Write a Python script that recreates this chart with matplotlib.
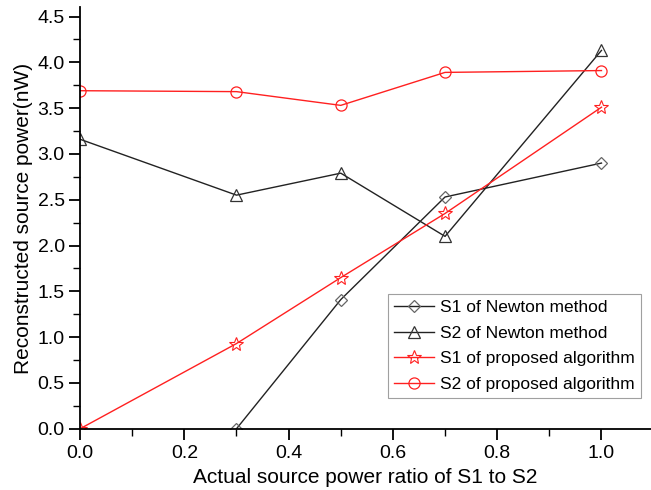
import matplotlib.pyplot as plt

plt.rcParams['font.family'] = ['Liberation Sans', 'DejaVu Sans']

# data
x_newton_s1 = [0.3, 0.5, 0.7, 1.0]
s1_newton = [0.0, 1.41, 2.53, 2.90]

x_all = [0.0, 0.3, 0.5, 0.7, 1.0]
s2_newton = [3.16, 2.55, 2.79, 2.10, 4.13]
s1_proposed = [0.0, 0.93, 1.65, 2.35, 3.51]
s2_proposed = [3.69, 3.68, 3.53, 3.89, 3.91]

fig = plt.figure(figsize=(6.51, 4.90), dpi=100)
ax = fig.add_axes([0.123, 0.125, 0.877, 0.86])

ax.plot(x_newton_s1, s1_newton, color='#222222', lw=1.0, marker='D', ms=6,
        mfc='none', mec='#666666', mew=0.9, label='S1 of Newton method')
ax.plot(x_all, s2_newton, color='#222222', lw=1.0, marker='^', ms=9,
        mfc='none', mec='#333333', mew=0.9, label='S2 of Newton method')
ax.plot(x_all, s1_proposed, color='#ff2020', lw=1.0, marker='*', ms=10,
        mfc='none', mec='#ff2020', mew=0.8, label='S1 of proposed algorithm')
ax.plot(x_all, s2_proposed, color='#ff2020', lw=1.0, marker='o', ms=8,
        mfc='none', mec='#ff2020', mew=0.9, label='S2 of proposed algorithm')

ax.set_xlim(0, 1.095)
ax.set_ylim(0, 4.6)
ax.set_xticks([0.0, 0.2, 0.4, 0.6, 0.8, 1.0])
ax.set_xticks([0.1, 0.3, 0.5, 0.7, 0.9], minor=True)
ax.set_yticks([0.0, 0.5, 1.0, 1.5, 2.0, 2.5, 3.0, 3.5, 4.0, 4.5])
ax.set_yticks([0.25 + 0.5 * i for i in range(9)], minor=True)
ax.xaxis.set_major_formatter(plt.FormatStrFormatter('%.1f'))
ax.yaxis.set_major_formatter(plt.FormatStrFormatter('%.1f'))

ax.spines['top'].set_visible(False)
ax.spines['right'].set_visible(False)
for s in ['left', 'bottom']:
    ax.spines[s].set_linewidth(1.3)
ax.tick_params(which='major', direction='out', length=8, width=1.3, labelsize=14)
ax.tick_params(which='minor', direction='out', length=5, width=1.0)
ax.tick_params(axis='y', pad=3)
ax.tick_params(axis='x', pad=4)

ax.set_xlabel('Actual source power ratio of S1 to S2', fontsize=15, labelpad=4)
ax.set_ylabel('Reconstructed source power(nW)', fontsize=15, labelpad=3)

leg = ax.legend(loc='lower right', bbox_to_anchor=(0.982, 0.073), fontsize=12.5,
                frameon=True, fancybox=False, edgecolor='#888888',
                borderpad=0.35, labelspacing=0.6, handlelength=2.3,
                handletextpad=0.35, borderaxespad=0)
leg.get_frame().set_linewidth(0.8)

fig.savefig('out.png', dpi=100)
